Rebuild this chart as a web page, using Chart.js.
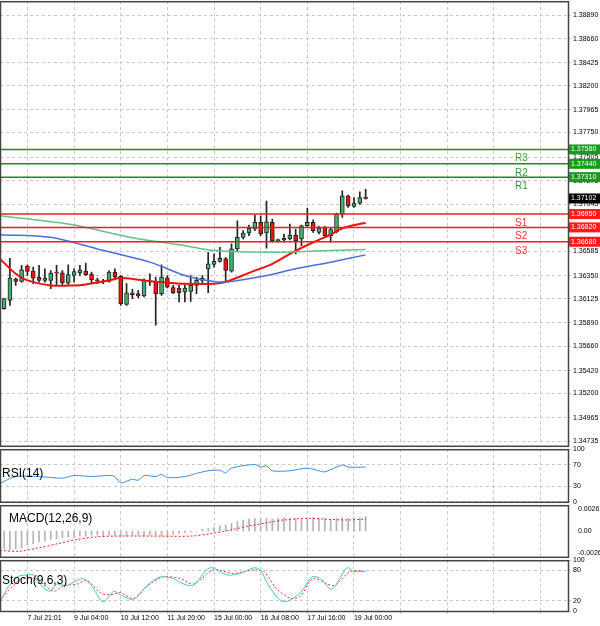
<!DOCTYPE html>
<html>
<head>
<meta charset="utf-8">
<script src="https://cdn.jsdelivr.net/npm/chart.js@4.4.1/dist/chart.umd.min.js"></script>
<style>
  body { margin: 0; background: #fff; overflow: hidden; }
  .panel { position: absolute; left: 0; width: 600px; }
</style>
</head>
<body>
<div class="panel" style="top:-5px;height:457px"><canvas id="main"></canvas></div>
<div class="panel" style="top:443px;height:65px"><canvas id="rsi"></canvas></div>
<div class="panel" style="top:499px;height:64px"><canvas id="macd"></canvas></div>
<div class="panel" style="top:554px;height:72px"><canvas id="stoch"></canvas></div>
<script>
// candles, oldest first
const opens  = [1.36028,1.36109,1.36319,1.36293,1.36442,1.36393,1.36332,1.36303,1.36303,1.36377,1.36377,1.36277,1.36351,1.36377,1.36393,1.36364,1.36306,1.36296,1.36293,1.36384,1.36342,1.36070,1.36183,1.36174,1.36151,1.36290,1.36293,1.36174,1.36329,1.36232,1.36229,1.36190,1.36196,1.36254,1.36303,1.36416,1.36458,1.36487,1.36513,1.36393,1.36610,1.36723,1.36765,1.36804,1.36869,1.36765,1.36869,1.36691,1.36697,1.36707,1.36746,1.36707,1.36836,1.36869,1.36772,1.36820,1.36739,1.36778,1.36950,1.37127,1.37024,1.37056,1.37114];
const highs  = [1.36125,1.36519,1.36326,1.36449,1.36455,1.36432,1.36449,1.36416,1.36400,1.36449,1.36400,1.36455,1.36416,1.36449,1.36471,1.36384,1.36326,1.36313,1.36400,1.36416,1.36351,1.36271,1.36216,1.36206,1.36319,1.36368,1.36335,1.36455,1.36351,1.36254,1.36254,1.36254,1.36351,1.36335,1.36351,1.36578,1.36562,1.36626,1.36529,1.36659,1.36885,1.36788,1.36843,1.36940,1.36933,1.37076,1.36901,1.36707,1.36756,1.36853,1.36804,1.36843,1.37005,1.36895,1.36830,1.36830,1.36820,1.36959,1.37176,1.37134,1.37111,1.37166,1.37192];
const lows   = [1.36022,1.36060,1.36254,1.36287,1.36351,1.36271,1.36287,1.36287,1.36222,1.36254,1.36254,1.36264,1.36287,1.36351,1.36351,1.36280,1.36271,1.36271,1.36287,1.36319,1.36060,1.36060,1.36125,1.36132,1.36141,1.36254,1.35866,1.36157,1.36229,1.36174,1.36093,1.36093,1.36099,1.36174,1.36271,1.36183,1.36432,1.36481,1.36287,1.36384,1.36594,1.36707,1.36739,1.36788,1.36739,1.36617,1.36675,1.36675,1.36675,1.36697,1.36562,1.36642,1.36830,1.36772,1.36756,1.36723,1.36675,1.36765,1.36917,1.37014,1.37014,1.37043,1.37095];
const closes = [1.36125,1.36326,1.36293,1.36406,1.36390,1.36326,1.36303,1.36326,1.36374,1.36374,1.36280,1.36361,1.36390,1.36406,1.36358,1.36309,1.36300,1.36290,1.36384,1.36335,1.36077,1.36183,1.36164,1.36151,1.36303,1.36287,1.36174,1.36335,1.36238,1.36183,1.36183,1.36229,1.36254,1.36303,1.36326,1.36465,1.36490,1.36519,1.36400,1.36610,1.36723,1.36765,1.36811,1.36869,1.36756,1.36875,1.36691,1.36694,1.36717,1.36746,1.36691,1.36836,1.36869,1.36788,1.36814,1.36739,1.36798,1.36950,1.37127,1.37030,1.37056,1.37111,1.37102];

// moving averages (bar index, price)
const maRedX   = [-0.7,2,4,8,12,14,18,20,24,27,31,36,38,42,46,49,53,56,58,61,62];
const maRedY   = [1.36513,1.36368,1.36303,1.36254,1.36254,1.36264,1.36303,1.36326,1.36303,1.36287,1.36271,1.36271,1.36287,1.36377,1.36465,1.36562,1.36675,1.36749,1.36811,1.36853,1.36862];
const maGreenX = [-0.7,11,22,31,36,45,56,62];
const maGreenY = [1.36933,1.36853,1.36720,1.36642,1.36594,1.36578,1.36594,1.36604];
const maBlueX  = [-0.7,8,16,25,31,36,39,45,50,56,62];
const maBlueY  = [1.36749,1.36723,1.36610,1.36481,1.36351,1.36293,1.36293,1.36351,1.36416,1.36481,1.36552];

const resistNames = ["R3","R2","R1"];
const resistLevels = [1.37580,1.37440,1.37310];
const supportNames = ["S1","S2","S3"];
const supportLevels = [1.36950,1.36820,1.36680];
const lastPrice = 1.37102;
const priceTicks = [1.38890,1.38660,1.38425,1.38200,1.37965,1.37750,1.37505,1.37275,1.37045,1.36585,1.36350,1.36125,1.35890,1.35660,1.35420,1.35200,1.34965,1.34735];

const rsiX = [-0.7,2,6,10,12,15,18,19,20,22,23,24,26,27,28,31,33,35,37,38,39,43,44,45,46,49,52,54,55,58,59,62];
const rsiY = [35,48,48,45,50,48,50,48,36,43,41,50,48,52,46,48,54,59,60,55,64,71,66,68,59,59,64,59,57,70,66,66];

const macdHist = [-0.0021,-0.0022,-0.0021,-0.0020,-0.0017,-0.0015,-0.0013,-0.0012,-0.0010,-0.0009,-0.0008,-0.0007,-0.0007,-0.0006,-0.0006,-0.0005,-0.0005,-0.0006,-0.0005,-0.0005,-0.0006,-0.0006,-0.0005,-0.0005,-0.0006,-0.0005,-0.0005,-0.0006,-0.0005,-0.0004,-0.0003,-0.0002,-0.0001,0.0000,0.0002,0.0003,0.0004,0.0006,0.0007,0.0009,0.0011,0.0013,0.0014,0.0015,0.0015,0.0015,0.0014,0.0015,0.0016,0.0015,0.0015,0.0014,0.0015,0.0016,0.0015,0.0015,0.0014,0.0015,0.0016,0.0015,0.0015,0.0016,0.0017];
const macdSigX = [-0.7,2.6,5.9,9.2,12.5,15.7,19,25.6,32.2,35.5,38.7,42,45.3,47.9,51.9,55.2,58.5,62];
const macdSigY = [-0.0023,-0.0024,-0.0020,-0.0015,-0.0010,-0.0007,-0.0006,-0.0006,-0.0006,-0.0003,0.0001,0.0006,0.0010,0.0013,0.0015,0.0014,0.0013,0.0014];

const stochMainX = [-0.7,0.5,2.2,3.9,5,6.7,7.9,9,10.7,12.5,13.6,14.8,17,18.8,19.9,22.2,24.5,26.8,29,30.8,32.5,35.3,38.2,40.5,42.8,43.9,45.6,47.9,50.8,52.8,54.2,56.2,58.8,60,62];
const stochMainY = [18,43,67,71,71,46,39,53,50,60,64,53,18,39,32,23,50,67,64,53,51,85,71,74,85,81,46,18,36,67,64,43,85,78,78];
const stochSigX = [-0.7,2.2,3.9,6.2,8.5,10.2,12.5,14.2,16.5,18.2,19.9,22.2,25,27.3,30.2,32.5,35.9,39.3,42.8,44.5,46.8,49.1,50.8,53,56.5,59.4,62];
const stochSigY = [21,57,67,57,39,50,53,60,36,32,36,25,53,67,64,53,81,74,81,78,43,25,29,64,50,78,78];

const timeLabels = {4:"7 Jul 21:01",12:"9 Jul 04:00",20:"10 Jul 12:00",28:"11 Jul 20:00",36:"15 Jul 00:00",44:"16 Jul 08:00",52:"17 Jul 16:00",60:"19 Jul 00:00"};

const X_MIN = -0.7, X_MAX = 96.7;
const FONT = { family: "Liberation Sans", size: 7 };
Chart.defaults.animation = false;
Chart.defaults.font.family = "Liberation Sans";

const pts = (xs, ys) => xs.map((x, i) => ({ x, y: ys[i] }));
const hline = (v) => [{ x: X_MIN, y: v }, { x: X_MAX, y: v }];

function xScale(showLabels) {
  return {
    type: "linear", min: X_MIN, max: X_MAX, offset: false,
    afterBuildTicks: (s) => { s.ticks = []; for (let v = 4; v < X_MAX; v += 8) s.ticks.push({ value: v }); },
    afterFit: (s) => { s.height = showLabels ? 15 : 0; },
    grid: { color: "#c8c8c8", tickLength: 3, drawTicks: showLabels, offset: false },
    border: { dash: [3, 3], display: false },
    ticks: {
      display: showLabels, align: "start", padding: 0, maxRotation: 0, autoSkip: false,
      font: FONT, color: "#000",
      callback: (v) => timeLabels[v] || ""
    }
  };
}
function yScale(min, max, ticks, fmt) {
  return {
    position: "right", min, max,
    afterBuildTicks: (s) => { s.ticks = ticks.map((v) => ({ value: v })); },
    afterFit: (s) => { s.width = 32; },
    grid: { color: "#c8c8c8", tickLength: 3 },
    border: { dash: [3, 3], display: false },
    ticks: { font: FONT, color: "#000", padding: 2, autoSkip: false, callback: fmt }
  };
}

const frame = {
  id: "frame",
  afterDraw(chart, args, opts) {
    const { ctx, chartArea: a } = chart;
    ctx.save();
    ctx.strokeStyle = "#444";
    ctx.lineWidth = 1.5;
    ctx.strokeRect(a.left + 0.5, a.top + 0.5, a.right - a.left, a.bottom - a.top);
    if (opts.title) {
      ctx.fillStyle = "#000";
      ctx.font = "12px 'Liberation Sans'";
      ctx.textBaseline = "middle";
      ctx.fillText(opts.title, opts.tx, a.top + opts.ty);
    }
    ctx.restore();
  }
};

const boxes = {
  id: "boxes",
  afterDraw(chart) {
    const { ctx, chartArea: a, scales: { y } } = chart;
    ctx.save();
    ctx.textBaseline = "middle";
    const box = (v, fill) => {
      const py = y.getPixelForValue(v);
      ctx.fillStyle = fill;
      ctx.fillRect(a.right + 1, py - 5, 32, 10);
      ctx.fillStyle = "#fff";
      ctx.font = "7px 'Liberation Sans'";
      ctx.fillText(v.toFixed(5), a.right + 3, py);
    };
    const tag = (name, v, col) => {
      ctx.fillStyle = col;
      ctx.font = "10px 'Liberation Sans'";
      ctx.fillText(name, a.right - 53, y.getPixelForValue(v) + 9);
    };
    resistLevels.forEach((v, i) => { box(v, "#1a9a1a"); tag(resistNames[i], v, "#3a9a3a"); });
    supportLevels.forEach((v, i) => { box(v, "#ff1a1a"); tag(supportNames[i], v, "#ff3030"); });
    box(lastPrice, "#000");
    ctx.restore();
  }
};

const gridDashPlugin = {
  id: "gdash",
  beforeDraw(chart) {
    Object.values(chart.scales).forEach((s) => { s.options.grid.borderDash = [3, 3]; });
  }
};

const idx = opens.map((_, i) => i);
const lineDs = (data, color, w, dash) => ({
  type: "line", data, borderColor: color, borderWidth: w, pointRadius: 0,
  borderDash: dash || [], tension: 0.3, order: 0
});
const common = (extra) => ({
  responsive: true, maintainAspectRatio: false,
  layout: { padding: 0 },
  ...extra
});

new Chart(document.getElementById("main"), {
  data: {
    datasets: [
      { type: "bar", grouped: false, order: 3, barThickness: 1, backgroundColor: "#222",
        data: idx.map((i) => ({ x: i, y: [lows[i], highs[i]] })) },
      { type: "bar", grouped: false, order: 2, barThickness: 4, borderWidth: 1, borderColor: "#222",
        borderSkipped: false, minBarLength: 1,
        backgroundColor: idx.map((i) => closes[i] >= opens[i] ? "#3cb371" : "#ff1010"),
        data: idx.map((i) => ({ x: i, y: [opens[i], closes[i]] })) },
      ...resistLevels.map((v) => ({ ...lineDs(hline(v), "#1e8c1e", 1.5), tension: 0 })),
      ...supportLevels.map((v) => ({ ...lineDs(hline(v), "#ff1a1a", 1.5), tension: 0 })),
      lineDs(pts(maGreenX, maGreenY), "#66c08a", 1.5),
      lineDs(pts(maBlueX, maBlueY), "#4a6ee0", 1.5),
      lineDs(pts(maRedX, maRedY), "#ee1111", 2)
    ]
  },
  options: common({
    plugins: { legend: { display: false }, tooltip: { enabled: false } },
    scales: {
      x: xScale(false),
      y: yScale(1.34690, 1.39026, priceTicks, (v) => v.toFixed(5))
    }
  }),
  plugins: [gridDashPlugin, frame, boxes]
});

new Chart(document.getElementById("rsi"), {
  data: { datasets: [lineDs(pts(rsiX, rsiY), "#3d8fe8", 1)] },
  options: common({
    plugins: { legend: { display: false }, tooltip: { enabled: false },
      frame: { title: "RSI(14)", tx: 2, ty: 24 } },
    scales: { x: xScale(false), y: yScale(0, 100, [0, 30, 70, 100], (v) => String(v)) }
  }),
  plugins: [gridDashPlugin, frame]
});

new Chart(document.getElementById("macd"), {
  data: { datasets: [
    { type: "bar", barThickness: 1, backgroundColor: "#b4b4b4", grouped: false, order: 2,
      data: macdHist.map((v, i) => ({ x: i, y: v })) },
    lineDs(pts(macdSigX, macdSigY), "#ff2020", 1, [2, 2])
  ] },
  options: common({
    plugins: { legend: { display: false }, tooltip: { enabled: false },
      frame: { title: "MACD(12,26,9)", tx: 9, ty: 13 } },
    scales: { x: xScale(false),
      y: { ...yScale(-0.00305, 0.00305, [0.00263, 0, -0.002605], (v) => v === 0 ? "0.00" : String(v)), grid: { display: false } } }
  }),
  plugins: [frame]
});

new Chart(document.getElementById("stoch"), {
  data: { datasets: [
    lineDs(pts(stochMainX, stochMainY), "#4cc8c0", 1),
    lineDs(pts(stochSigX, stochSigY), "#ff3030", 1, [2, 2])
  ] },
  options: common({
    plugins: { legend: { display: false }, tooltip: { enabled: false },
      frame: { title: "Stoch(9,6,3)", tx: 2, ty: 20 } },
    scales: { x: xScale(true), y: yScale(0, 100, [0, 20, 80, 100], (v) => String(v)) }
  }),
  plugins: [gridDashPlugin, frame]
});
</script>
</body>
</html>
